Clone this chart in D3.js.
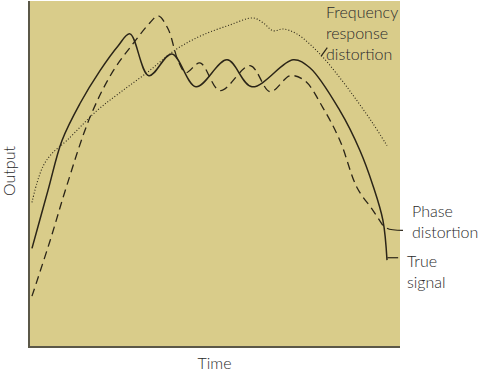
<!DOCTYPE html>
<html>
<head>
<meta charset="utf-8">
<script src="https://cdn.jsdelivr.net/npm/d3@7"></script>
<style>
  body { margin: 0; background: #fff; }
  svg { display: block; font-family: Lato, "Open Sans", sans-serif; font-weight: 300; }
</style>
</head>
<body>
<svg id="chart" width="480" height="372"></svg>
<script>
// time / output pairs (arbitrary units 0..10)
const trueTime   = [0.08, 0.51, 0.89, 1.37, 1.91, 2.40, 2.72, 3.23, 3.85, 4.50, 5.34, 6.01, 7.12, 7.57, 8.38, 8.92, 9.27, 9.54, 9.65];
const trueOutput = [2.85, 4.52, 5.97, 7.03, 7.98, 8.70, 9.05, 7.84, 8.47, 7.52, 8.30, 7.52, 8.30, 8.07, 6.83, 5.68, 4.67, 3.66, 2.51];

const phaseTime   = [0.08, 0.57, 1.02, 1.64, 2.24, 2.80, 3.26, 3.48, 3.75, 4.02, 4.23, 4.61, 5.15, 5.96, 6.50, 7.04, 7.44, 7.92, 8.38, 8.84, 9.27, 9.57];
const phaseOutput = [1.47, 3.08, 4.67, 6.63, 7.93, 8.76, 9.37, 9.57, 9.19, 8.27, 7.93, 8.21, 7.41, 8.13, 7.38, 7.84, 7.69, 6.92, 5.97, 4.61, 3.95, 3.46];

const freqTime   = [0.08, 0.22, 0.40, 0.62, 1.02, 1.83, 2.45, 3.18, 3.99, 4.69, 5.42, 6.04, 6.31, 6.58, 6.85, 7.22, 7.84, 8.38, 8.84, 9.27, 9.65];
const freqOutput = [4.18, 4.76, 5.27, 5.59, 5.97, 6.83, 7.35, 7.93, 8.62, 9.02, 9.31, 9.51, 9.37, 9.14, 9.19, 9.05, 8.47, 7.78, 7.12, 6.46, 5.82];

const freqLabel  = ["Frequency", "response", "distortion"];
const phaseLabel = ["Phase", "distortion"];
const trueLabel  = ["True", "signal"];

const svg = d3.select("#chart");
const plotLeft = 29, plotRight = 400, plotTop = 1, plotBottom = 347;

const x = d3.scaleLinear().domain([0, 10]).range([plotLeft, plotRight]);
const y = d3.scaleLinear().domain([0, 10]).range([plotBottom, plotTop]);

const ink = "#2b2518";
const textInk = "#2a2a2a";

svg.append("rect")
    .attr("x", plotLeft).attr("y", plotTop)
    .attr("width", plotRight - plotLeft).attr("height", plotBottom - plotTop)
    .attr("fill", "#d9cc8a");

// axes, just the two lines
svg.append("path")
    .attr("d", `M${x(0)},${y(10)}V${y(0)}H${x(10)}`)
    .attr("fill", "none")
    .attr("stroke", "#5b5848")
    .attr("stroke-width", 2);

const line = d3.line()
    .x(d => x(d[0]))
    .y(d => y(d[1]))
    .curve(d3.curveCatmullRom.alpha(0.5));

const series = [
    { t: freqTime, v: freqOutput, dash: "1,2", w: 1.1 },
    { t: phaseTime, v: phaseOutput, dash: "8,5", w: 1.3 },
    { t: trueTime, v: trueOutput, dash: null, w: 1.5 },
];

svg.append("g")
    .selectAll("path")
    .data(series)
    .join("path")
    .attr("d", s => line(d3.zip(s.t, s.v)))
    .attr("fill", "none")
    .attr("stroke", ink)
    .attr("stroke-width", s => s.w)
    .attr("stroke-dasharray", s => s.dash);

// leader ticks from the curves to their labels
const leaders = svg.append("g").attr("stroke", ink).attr("stroke-width", 1.2).attr("fill", "none");
leaders.append("path")
    .attr("d", `M${x(7.87)},${y(8.4)}L${x(8.04)},${y(8.65)}`);
leaders.append("path")
    .attr("d", `M${x(9.65)},${y(3.43)}Q${x(9.75)},${y(3.37)} ${x(10.08)},${y(3.37)}`);
leaders.append("path")
    .attr("d", `M${x(9.66)},${y(2.58)}H${x(9.95)}`);

function label(lines, px, py) {
    const t = svg.append("text")
        .attr("x", px).attr("y", py)
        .attr("fill", textInk)
        .attr("font-size", 16);
    t.selectAll("tspan")
        .data(lines)
        .join("tspan")
        .attr("x", px)
        .attr("dy", (d, i) => i ? 21 : 0)
        .text(d => d);
}

label(freqLabel, 326, 18);
label(phaseLabel, 412, 217);
label(trueLabel, 407, 267);

svg.append("text")
    .attr("x", (plotLeft + plotRight) / 2).attr("y", 369)
    .attr("text-anchor", "middle")
    .attr("font-size", 16)
    .attr("fill", textInk)
    .text("Time");

svg.append("text")
    .attr("transform", "translate(15,171) rotate(-90)")
    .attr("text-anchor", "middle")
    .attr("font-size", 16)
    .attr("fill", textInk)
    .text("Output");
</script>
</body>
</html>
